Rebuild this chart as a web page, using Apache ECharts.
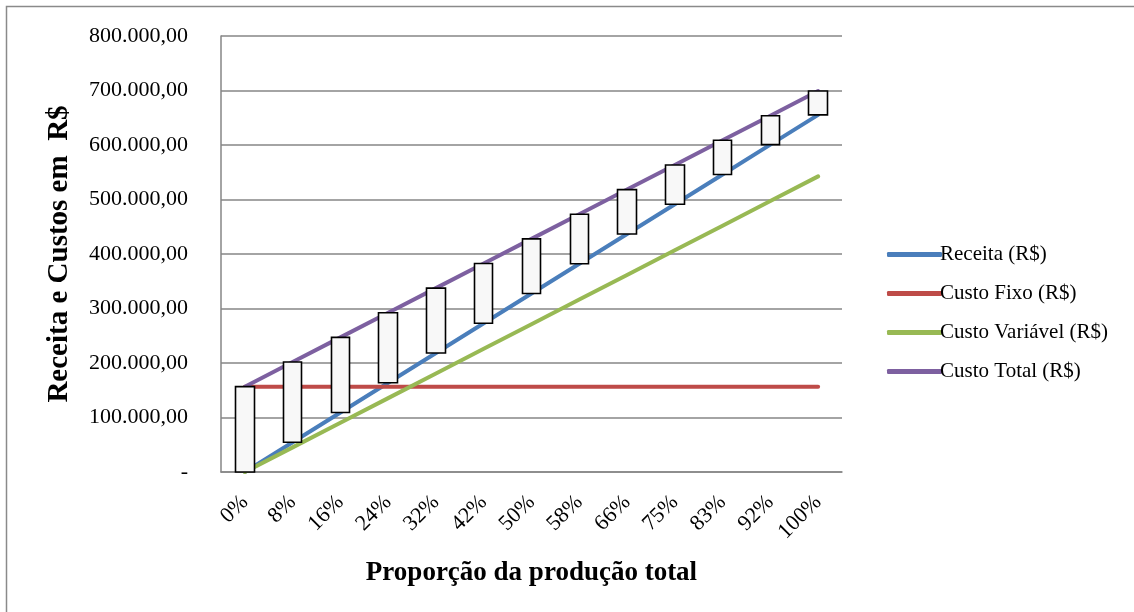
<!DOCTYPE html>
<html>
<head>
<meta charset="utf-8">
<script src="https://cdn.jsdelivr.net/npm/echarts@6/dist/echarts.min.js"></script>
<style>
  html, body { margin: 0; padding: 0; background: #fff; }
  #chart { width: 1134px; height: 612px; }
</style>
</head>
<body>
<div id="chart"></div>
<script>
// Break-even chart: revenue vs. fixed, variable and total costs
const categories = ['0%', '8%', '16%', '24%', '32%', '42%', '50%', '58%', '66%', '75%', '83%', '92%', '100%'];
const receita = [0, 54600, 109200, 163800, 218400, 273000, 327600, 382200, 436800, 491400, 546000, 600600, 655200];
const custoFixo = [156600, 156600, 156600, 156600, 156600, 156600, 156600, 156600, 156600, 156600, 156600, 156600, 156600];
const custoVariavel = [0, 45200, 90400, 135600, 180800, 226000, 271200, 316400, 361600, 406800, 452000, 497200, 542400];
const custoTotal = [156600, 201800, 247000, 292200, 337400, 382600, 427800, 473000, 518200, 563400, 608600, 653800, 699000];
const yTicks = { min: 0, max: 800000, interval: 100000 };

const seriesNames = ['Receita (R$)', 'Custo Fixo (R$)', 'Custo Variável (R$)', 'Custo Total (R$)'];
const seriesColors = ['#4a7ebb', '#be4b48', '#98b954', '#7d60a0'];
const seriesData = [receita, custoFixo, custoVariavel, custoTotal];

// Up/down bars between revenue and total cost
const gapBars = receita.map((r, i) => {
  const t = custoTotal[i];
  return [r, t, Math.min(r, t), Math.max(r, t)];
});

function fmtBR(v) {
  if (v === 0) return '-';
  const int = Math.round(v).toString().replace(/\B(?=(\d{3})+(?!\d))/g, '.');
  return int + ',00';
}

const serif = 'Liberation Serif, Times New Roman, serif';
const chart = echarts.init(document.getElementById('chart'));

const lineSeries = seriesNames.map((name, i) => ({
  name: name,
  type: 'line',
  data: seriesData[i],
  symbol: 'none',
  z: 2 + i,
  lineStyle: { color: seriesColors[i], width: 4, cap: 'round', join: 'round' },
  itemStyle: { color: seriesColors[i] }
}));

chart.setOption({
  animation: false,
  backgroundColor: '#fff',
  textStyle: { fontFamily: serif },
  graphic: [{
    type: 'rect',
    shape: { x: 6.5, y: 6.5, width: 1200, height: 700 },
    style: { fill: null, stroke: '#8a8a8a', lineWidth: 1.5 },
    z: -1
  }],
  grid: { left: 221, right: 292, top: 36, bottom: 140 },
  legend: {
    data: seriesNames,
    orient: 'vertical',
    left: 882,
    top: 239,
    itemWidth: 55,
    itemHeight: 5,
    itemGap: 18,
    icon: 'roundRect',
    textStyle: { fontFamily: serif, fontSize: 21, color: '#000', padding: [0, 0, 0, -7] }
  },
  xAxis: {
    type: 'category',
    data: categories,
    name: 'Proporção da produção total',
    nameLocation: 'middle',
    nameGap: 88,
    nameTextStyle: { fontFamily: serif, fontSize: 27, fontWeight: 'bold', color: '#000' },
    axisLine: { lineStyle: { color: '#868686', width: 1.5 } },
    axisTick: { show: false },
    axisLabel: { rotate: 45, margin: 27, fontFamily: serif, fontSize: 22, color: '#000', interval: 0 },
    splitLine: { show: false }
  },
  yAxis: {
    type: 'value',
    min: yTicks.min,
    max: yTicks.max,
    interval: yTicks.interval,
    name: 'Receita e Custos em  R$',
    nameLocation: 'middle',
    nameGap: 147,
    nameRotate: 90,
    nameTextStyle: { fontFamily: serif, fontSize: 29, fontWeight: 'bold', color: '#000' },
    axisLine: { show: true, lineStyle: { color: '#868686', width: 1.5 } },
    axisTick: { show: false },
    axisLabel: { formatter: fmtBR, margin: 33, fontFamily: serif, fontSize: 22, color: '#000' },
    splitLine: { show: true, lineStyle: { color: '#868686', width: 1.5 } }
  },
  series: lineSeries.concat([{
    name: 'Barras',
    type: 'candlestick',
    data: gapBars,
    barWidth: 19,
    z: 10,
    itemStyle: {
      color: '#f8f8f8', color0: '#f8f8f8',
      borderColor: '#000', borderColor0: '#000',
      borderWidth: 1.6
    }
  }])
});
</script>
</body>
</html>
